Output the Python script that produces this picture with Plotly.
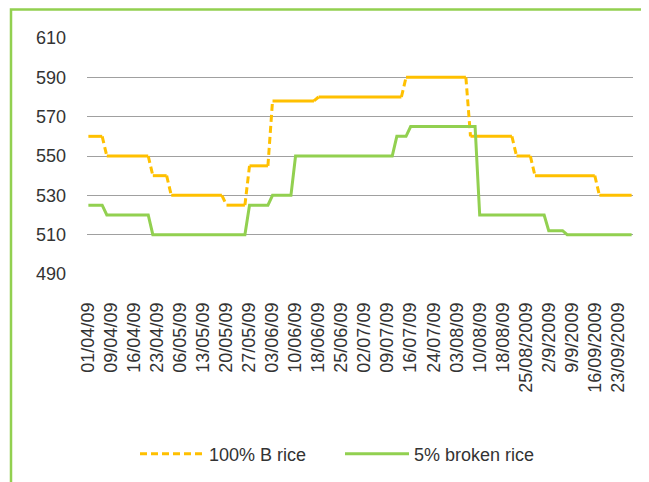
import plotly.graph_objects as go

# Category positions (one per observation) and the dates shown on the axis
tick_labels = ["01/04/09", "09/04/09", "16/04/09", "23/04/09", "06/05/09", "13/05/09",
               "20/05/09", "27/05/09", "03/06/09", "10/06/09", "18/06/09", "25/06/09",
               "02/07/09", "09/07/09", "16/07/09", "24/07/09", "03/08/09", "10/08/09",
               "18/08/09", "25/08/2009", "2/9/2009", "9/9/2009", "16/09/2009", "23/09/2009"]

# 100% B rice (USD/t)
rice_100b = [560, 560, 560, 560,
             550, 550, 550, 550, 550, 550, 550, 550, 550, 550,
             540, 540, 540, 540,
             530, 530, 530, 530, 530, 530, 530, 530, 530, 530, 530, 530,
             525, 525, 525, 525, 525,
             545, 545, 545, 545, 545,
             578, 578, 578, 578, 578, 578, 578, 578, 578, 578,
             580, 580, 580, 580, 580, 580, 580, 580, 580, 580, 580, 580, 580, 580, 580, 580, 580, 580, 580,
             590, 590, 590, 590, 590, 590, 590, 590, 590, 590, 590, 590, 590, 590,
             560, 560, 560, 560, 560, 560, 560, 560, 560, 560,
             550, 550, 550, 550,
             540, 540, 540, 540, 540, 540, 540, 540, 540, 540, 540, 540, 540, 540,
             530, 530, 530, 530, 530, 530, 530, 530]

# 5% broken rice (USD/t)
rice_5pct = [525, 525, 525, 525,
             520, 520, 520, 520, 520, 520, 520, 520, 520, 520,
             510, 510, 510, 510, 510, 510, 510, 510, 510, 510, 510, 510, 510, 510, 510, 510, 510, 510, 510, 510, 510,
             525, 525, 525, 525, 525,
             530, 530, 530, 530, 530,
             550, 550, 550, 550, 550, 550, 550, 550, 550, 550, 550, 550, 550, 550, 550, 550, 550, 550, 550, 550, 550, 550,
             560, 560, 560,
             565, 565, 565, 565, 565, 565, 565, 565, 565, 565, 565, 565, 565, 565, 565,
             520, 520, 520, 520, 520, 520, 520, 520, 520, 520, 520, 520, 520, 520, 520,
             512, 512, 512, 512,
             510, 510, 510, 510, 510, 510, 510, 510, 510, 510, 510, 510, 510, 510, 510]

label_step = 5
n = len(rice_100b)
idx = list(range(n))
tickvals = [i * label_step for i in range(len(tick_labels))]

YELLOW = "#FFC000"
GREEN = "#92D050"
FONT = "Liberation Sans, Arial, sans-serif"

# The dashed style restarts at each point-to-point segment (as in the source chart):
# flat runs look solid, the changes between levels show the dashes.
flat_x, flat_y, step_x, step_y = [], [], [], []
for i in idx:
    flat_x.append(i)
    flat_y.append(rice_100b[i])
    if i < n - 1 and rice_100b[i + 1] != rice_100b[i]:
        flat_x.append(None)
        flat_y.append(None)
        step_x += [i, i + 1, None]
        step_y += [rice_100b[i], rice_100b[i + 1], None]

fig = go.Figure()
fig.add_trace(go.Scatter(x=flat_x, y=flat_y, mode="lines", name="100% B rice",
                         legendgroup="b", showlegend=False, connectgaps=False,
                         line=dict(color=YELLOW, width=3), hoverinfo="skip"))
fig.add_trace(go.Scatter(x=step_x, y=step_y, mode="lines", name="100% B rice",
                         legendgroup="b", connectgaps=False,
                         line=dict(color=YELLOW, width=3, dash="7px,4px")))
fig.add_trace(go.Scatter(x=idx, y=rice_5pct, mode="lines", name="5% broken rice",
                         line=dict(color=GREEN, width=3)))

W, H = 641, 474
L, T, B = 79, 30, 207
PW, PH = 546, 237

fig.update_layout(
    width=W, height=H,
    margin=dict(l=L, r=W - L - PW, t=T, b=B),
    paper_bgcolor="white", plot_bgcolor="white",
    font=dict(family=FONT, size=17, color="#333333"),
    showlegend=True,
    legend=dict(orientation="h", x=(127 - L) / PW, xanchor="left",
                y=(T + PH - 446) / PH, yanchor="middle",
                font=dict(size=18, color="#333333"), itemwidth=64,
                entrywidth=126, entrywidthmode="pixels",
                bgcolor="rgba(0,0,0,0)"),
    xaxis=dict(range=[-0.3, n - 0.7], tickmode="array", tickvals=tickvals, ticktext=tick_labels,
               tickangle=-90, showgrid=False, zeroline=False, showline=False, ticks="",
               ticklabelstandoff=24, tickfont=dict(size=18)),
    yaxis=dict(range=[490, 610], dtick=20, tick0=490, showgrid=True, gridcolor="#A0A0A0",
               gridwidth=1, zeroline=False, showline=False, ticks="",
               ticklabelstandoff=20, tickfont=dict(size=18)),
    shapes=[dict(type="rect", xref="paper", yref="paper",
                 x0=(3 - L) / PW, x1=(W + 20 - L) / PW,
                 y0=(T + PH - (H + 20)) / PH, y1=(T + PH - 1.5) / PH,
                 line=dict(color=GREEN, width=2.5), fillcolor="rgba(0,0,0,0)", layer="below")],
)

fig.write_html("out.html")
